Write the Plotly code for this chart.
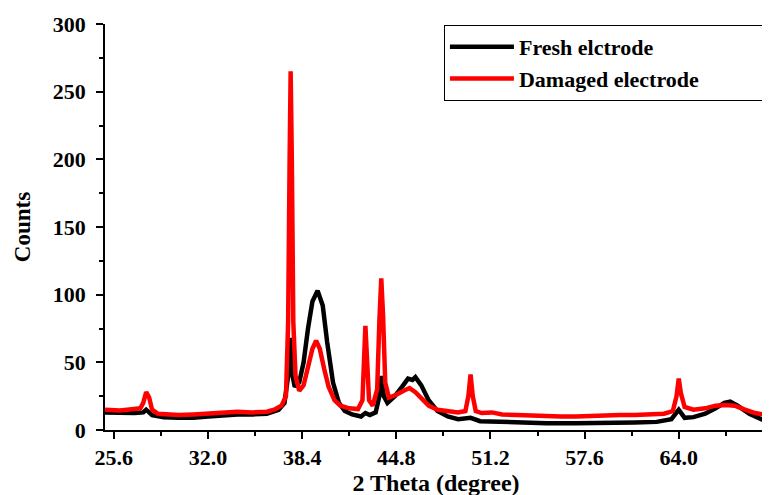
import plotly.graph_objects as go

# Fresh electrode (black)
fresh_x = [25.0, 26.0, 27.0, 27.6, 27.8, 28.2, 29.0, 30.0, 31.0, 32.0, 33.0, 34.0, 35.0, 36.0,
           36.8, 37.2, 37.45, 37.6, 37.75, 37.9, 38.2, 38.5, 38.8, 39.1, 39.45, 39.8, 40.1,
           40.5, 40.9, 41.3, 41.8, 42.4, 42.7, 43.0, 43.4, 43.65, 43.8, 43.95, 44.2, 44.7,
           45.2, 45.6, 45.9, 46.1, 46.5, 47.0, 47.6, 48.3, 49.0, 49.85, 50.5, 51.5, 53.0,
           55.0, 57.0, 59.0, 61.0, 62.5, 63.5, 64.0, 64.4, 65.0, 65.8, 66.5, 67.1, 67.5,
           68.0, 68.8, 69.5, 70.0]
fresh_y = [13, 12.5, 12.5, 13, 15, 11, 9.5, 9, 9, 10, 11, 11.5, 11.5, 12,
           15, 20, 40, 68, 40, 32, 35, 50, 75, 95, 103, 92, 65,
           35, 20, 14, 11.5, 10, 12.5, 11, 13, 25, 40, 25, 20, 25,
           32, 38, 37, 39, 33, 22, 14, 10, 8, 9, 6.5, 6, 5.5,
           5, 5, 5, 5.5, 6, 8, 15, 9, 9.5, 12, 16, 20, 21,
           18, 12, 8, 6]

# Damaged electrode (red)
damaged_x = [25.0, 25.5, 26.0, 26.5, 27.0, 27.4, 27.6, 27.8, 28.0, 28.2, 28.6, 29.0, 30.0,
             31.0, 32.0, 33.0, 34.0, 35.0, 36.0, 36.5, 37.0, 37.3, 37.45, 37.55, 37.62,
             37.7, 37.8, 37.95, 38.2, 38.5, 38.8, 39.1, 39.35, 39.6, 39.9, 40.2, 40.6,
             41.0, 41.6, 42.2, 42.5, 42.62, 42.7, 42.8, 42.95, 43.2, 43.5, 43.65, 43.78,
             43.9, 44.05, 44.3, 44.8, 45.3, 45.7, 46.1, 46.6, 47.0, 47.6, 48.2, 49.0,
             49.5, 49.7, 49.85, 50.0, 50.2, 50.6, 51.3, 52.0, 53.0, 54.0, 55.0, 56.0,
             57.0, 58.0, 59.0, 60.0, 61.0, 62.0, 63.0, 63.6, 63.85, 64.0, 64.15, 64.4,
             65.0, 65.8, 66.5, 67.2, 67.8, 68.5, 69.2, 70.0]
damaged_y = [15, 14.5, 14.5, 15, 15.5, 16, 20, 28, 24, 15, 12, 11.5, 11,
             11.5, 12, 13, 13.5, 13, 13.5, 15, 18, 25, 80, 200, 265,
             200, 80, 40, 29, 33, 45, 60, 66, 60, 45, 32, 22,
             18, 16, 15.5, 22, 60, 77, 55, 22, 18, 30, 80, 112,
             85, 35, 24, 26, 29, 31, 28, 22, 18, 15, 14, 13,
             14, 25, 41, 25, 14, 12.5, 13, 11.5, 11, 10.5, 10, 10,
             10, 10.5, 10.5, 11, 11, 11.5, 12, 14, 25, 38, 27, 17,
             15, 16, 18, 18.5, 18, 15, 12.5, 11]

x_ticks = [25.6, 32.0, 38.4, 44.8, 51.2, 57.6, 64.0]
x_tick_labels = ["25.6", "32.0", "38.4", "44.8", "51.2", "57.6", "64.0"]
y_ticks = [0, 50, 100, 150, 200, 250, 300]

FONT = "Times New Roman, Liberation Serif, serif"
NBSP = "\u00a0"

fig = go.Figure()
fig.add_trace(go.Scatter(x=fresh_x, y=fresh_y, mode="lines", name="Fresh elctrode",
                         line=dict(color="black", width=4.5)))
fig.add_trace(go.Scatter(x=damaged_x, y=damaged_y, mode="lines",
                         name="Damaged electrode" + NBSP * 12,
                         line=dict(color="#ff0000", width=4.5)))

axis_common = dict(
    showline=True, linecolor="black", linewidth=1.5, mirror=False,
    ticks="outside", ticklen=7, tickwidth=1.5, tickcolor="black",
    showgrid=False, zeroline=False,
    tickfont=dict(family=FONT, size=22, color="black", weight="bold"),
)

fig.update_xaxes(range=[25, 70], tickvals=x_ticks, ticktext=x_tick_labels,
                 minor=dict(dtick=3.2, tick0=25.6, ticks="outside", ticklen=4, tickwidth=1.5,
                            tickcolor="black"),
                 title=dict(text="2 Theta (degree)", standoff=2,
                            font=dict(family=FONT, size=24, color="black", weight="bold")),
                 **axis_common)
fig.update_yaxes(range=[0, 300], tickvals=y_ticks, ticklabelstandoff=6,
                 minor=dict(dtick=25, ticks="outside", ticklen=4, tickwidth=1.5,
                            tickcolor="black"),
                 title=dict(text="Counts", standoff=16,
                            font=dict(family=FONT, size=23, color="black", weight="bold")),
                 **axis_common)

fig.update_layout(
    width=770, height=495,
    margin=dict(l=97, r=11, t=16, b=73, autoexpand=False),
    plot_bgcolor="white", paper_bgcolor="white",
    showlegend=True,
    legend=dict(x=0.512, y=0.9975, xanchor="left", yanchor="top",
                bordercolor="black", borderwidth=1, bgcolor="white",
                font=dict(family=FONT, size=22, color="black", weight="bold"),
                tracegroupgap=0, itemwidth=64),
)

fig.write_html("out.html")
